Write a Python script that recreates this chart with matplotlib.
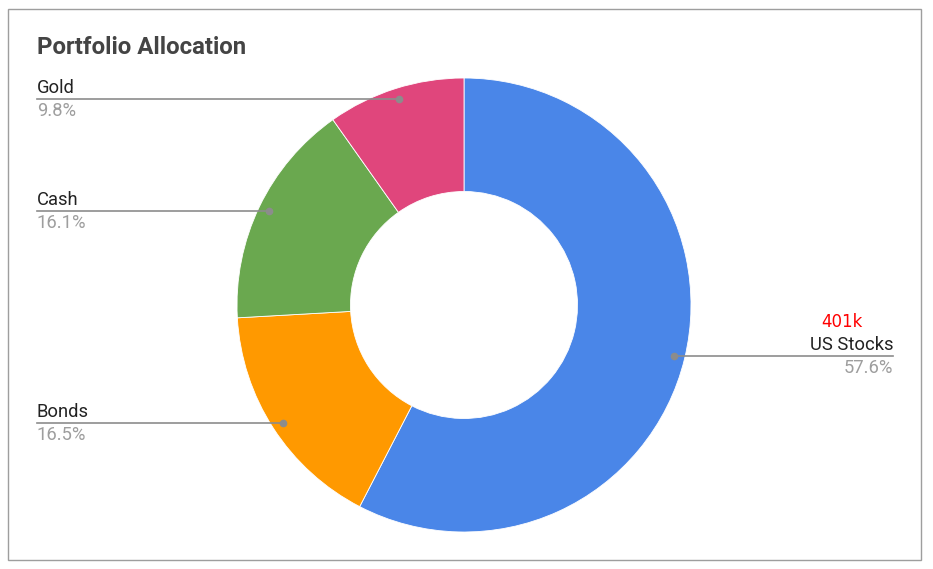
import numpy as np
import matplotlib.pyplot as plt
from matplotlib.patches import Rectangle

# chart data
categories = ['US Stocks', 'Bonds', 'Cash', 'Gold']
shares = [57.6, 16.5, 16.1, 9.8]
colors = ['#4a86e8', '#ff9900', '#6aa84f', '#e0467c']
extra_note = {'US Stocks': '401k'}

W, H = 933, 569
fig = plt.figure(figsize=(W / 100, H / 100), dpi=100)
ax = fig.add_axes([0, 0, 1, 1])
ax.set_xlim(0, W)
ax.set_ylim(0, H)
ax.set_aspect('equal')
ax.axis('off')

cx, cy, R = 464, H - 305, 227

wedges, _ = ax.pie(shares, colors=colors, startangle=90, counterclock=False,
                   center=(cx, cy), radius=R,
                   wedgeprops=dict(width=R * 0.5, edgecolor='white', linewidth=0.6))
ax.set_xlim(0, W)
ax.set_ylim(0, H)

# outer frame
fig.patches.append(Rectangle((8 / W, 9 / H), 913 / W, 551 / H, transform=fig.transFigure,
                             fill=False, edgecolor='#9e9e9e', linewidth=1))

ax.text(37, H - 47, 'Portfolio Allocation', fontsize=17.3, fontweight='bold',
        color='#444444', family='Roboto', ha='left', va='center')

line_c = '#8c8c8c'
for w, name, val in zip(wedges, categories, shares):
    mid = np.deg2rad((w.theta1 + w.theta2) / 2)
    px = cx + 0.952 * R * np.cos(mid)
    py = cy + 0.952 * R * np.sin(mid)
    ax.plot([px], [py], 'o', ms=4.5, color=line_c, zorder=5)
    if np.cos(mid) >= 0:
        x_end, ha = 893, 'right'
    else:
        x_end, ha = 37, 'left'
    ax.plot([px, x_end], [py, py], color=line_c, lw=1.2, zorder=4)
    ax.text(x_end, py + 2, name, fontsize=13.2, color='#222222', family='Roboto',
            ha=ha, va='bottom')
    ax.text(x_end, py - 3, f'{val:.1f}%', fontsize=13.2, color='#9e9e9e', family='Roboto',
            ha=ha, va='top')
    if name in extra_note:
        ax.text(842, py + 34, extra_note[name], fontsize=12, color='#ff0000',
                family='DejaVu Sans', ha='center', va='center')

fig.savefig('out.png', dpi=100, facecolor='white')
